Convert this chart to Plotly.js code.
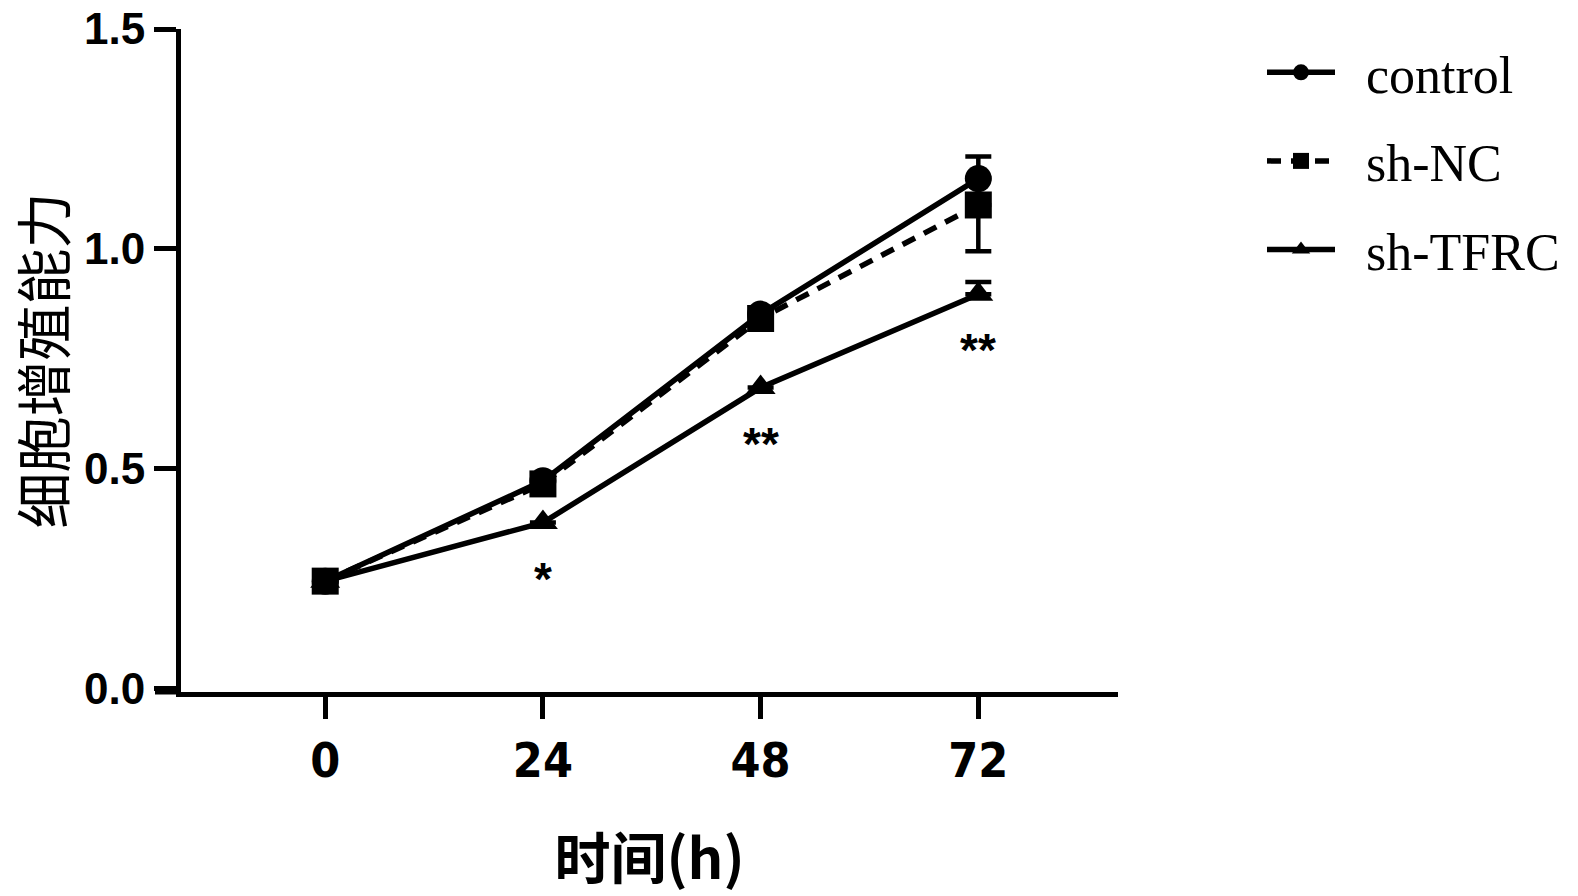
<!DOCTYPE html>
<html>
<head>
<meta charset="utf-8">
<script src="https://cdn.plot.ly/plotly-3.0.1.min.js"></script>
<style>html,body{margin:0;padding:0;background:#fff;}#chart{width:1578px;height:896px;}</style>
</head>
<body>
<div id="chart"></div>
<script>
// ---- data ----
const timePoints = [0, 24, 48, 72];
const controlValues = [0.245, 0.473, 0.852, 1.16];
const controlErrUp = [0, 0, 0, 0.05];
const shNCValues = [0.245, 0.466, 0.842, 1.10];
const shNCErrDown = [0, 0, 0, 0.105];
const shTFRCValues = [0.245, 0.378, 0.685, 0.897];
const shTFRCErrUp = [0, 0, 0, 0.028];
const sigIndex = [1, 2, 3];
const sigLabels = ['*', '**', '**'];
const seriesNames = ['control', 'sh-NC', 'sh-TFRC'];
const yTickVals = [0, 0.5, 1.0, 1.5];
const yTickText = ['0.0', '0.5', '1.0', '1.5'];
const xTickText = ['0', '24', '48', '72'];

const black = '#000000';
const legendFont = {family: 'Liberation Serif, Times New Roman, serif', size: 52, color: black};
const gap = '\u00a0\u00a0';

const traceControl = {
  x: timePoints, y: controlValues, name: gap + seriesNames[0], type: 'scatter', mode: 'lines+markers',
  line: {color: black, width: 5.5},
  marker: {symbol: 'circle', size: 27, color: black},
  error_y: {type: 'data', symmetric: false, array: controlErrUp, arrayminus: [0,0,0,0], color: black, thickness: 4.5, width: 13},
  legendrank: 1, legendgroup: 'a'
};
const traceTFRC = {
  x: timePoints, y: shTFRCValues, name: gap + seriesNames[2], type: 'scatter', mode: 'lines+markers',
  line: {color: black, width: 5.5},
  marker: {symbol: 'triangle-up', size: 26, color: black},
  error_y: {type: 'data', symmetric: false, array: shTFRCErrUp, arrayminus: [0,0,0,0], color: black, thickness: 4.5, width: 13},
  legendrank: 3, legendgroup: 'c'
};
const traceNC = {
  x: timePoints, y: shNCValues, name: gap + seriesNames[1], type: 'scatter', mode: 'lines+markers',
  line: {color: black, width: 5.5, dash: '14px,10px'},
  marker: {symbol: 'square', size: 27, color: black},
  error_y: {type: 'data', symmetric: false, array: [0,0,0,0], arrayminus: shNCErrDown, color: black, thickness: 4.5, width: 13},
  legendrank: 2, legendgroup: 'b'
};

const annotations = sigIndex.map((idx, k) => ({
  x: timePoints[idx], y: shTFRCValues[idx], xref: 'x', yref: 'y',
  text: sigLabels[k], showarrow: false, yshift: -56,
  font: {family: 'Liberation Sans, Arial, sans-serif', size: 46, color: black, weight: 'bold'}
}));

const plotW = 1578 - 181 - 460;
const plotH = 896 - 29 - 204;

const layout = {
  width: 1578, height: 896,
  paper_bgcolor: '#ffffff', plot_bgcolor: '#ffffff',
  margin: {l: 181, r: 460, t: 29, b: 204, pad: 0, autoexpand: false},
  showlegend: true,
  legend: {
    x: (1262 - 181) / plotW, xanchor: 'left', y: 1 - 3 / plotH, yanchor: 'top',
    font: legendFont, traceorder: 'grouped', tracegroupgap: 18, itemwidth: 68,
    bgcolor: 'rgba(0,0,0,0)'
  },
  xaxis: {
    range: [-15.9, 87.4], tickmode: 'array', tickvals: timePoints, ticktext: xTickText,
    showline: true, linecolor: black, linewidth: 5, ticks: 'outside', ticklen: 22, tickwidth: 5, tickcolor: black,
    showgrid: false, zeroline: false, automargin: false,
    tickfont: {family: 'Liberation Sans Narrow, DejaVu Sans Condensed, Arial Narrow, sans-serif', size: 48, color: black, weight: 'bold'},
    title: {text: '时间(h)', font: {family: 'Noto Sans CJK SC, sans-serif', size: 56, color: black, weight: 'bold'}, standoff: 55}
  },
  yaxis: {
    range: [-0.007, 1.5], tickmode: 'array', tickvals: yTickVals, ticktext: yTickText,
    showline: true, linecolor: black, linewidth: 5, ticks: 'outside', ticklen: 22, tickwidth: 5, tickcolor: black,
    showgrid: false, zeroline: false, automargin: false,
    tickfont: {family: 'Liberation Sans, Arial, sans-serif', size: 44, color: black, weight: 'bold'},
    title: {text: '细胞增殖能力', font: {family: 'Noto Sans CJK SC, sans-serif', size: 56, color: black}, standoff: 34}
  },
  shapes: [{
    type: 'line', xref: 'paper', yref: 'paper', x0: -26 / plotW, x1: 0, y0: 0, y1: 0,
    line: {color: black, width: 5}
  }],
  annotations: annotations
};

Plotly.newPlot('chart', [traceControl, traceTFRC, traceNC], layout, {displayModeBar: false, staticPlot: true});
</script>
</body>
</html>
